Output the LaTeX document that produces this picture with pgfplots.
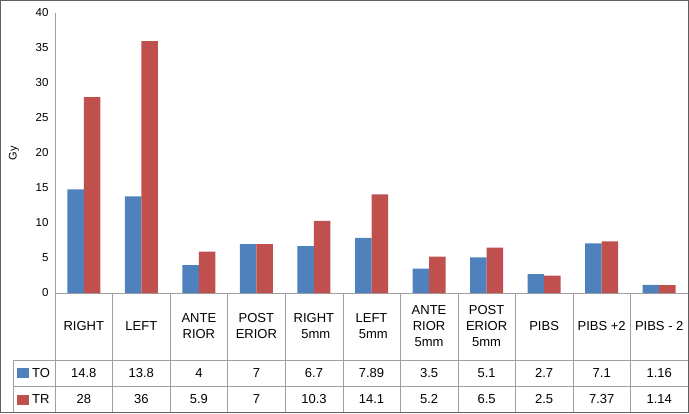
\documentclass[border=0pt]{standalone}
\usepackage{pgfplots}
\pgfplotsset{compat=1.18}
\usepackage{pgfplotstable}
\usepackage{fontspec}
\setmainfont{Liberation Sans}

\definecolor{toblue}{RGB}{79,129,189}
\definecolor{trred}{RGB}{192,80,77}
\definecolor{linegray}{RGB}{160,160,160}
\definecolor{framegray}{RGB}{95,95,95}

% dose per position (Gy)
\pgfplotstableread{
x TO TR
0 14.8 28
1 13.8 36
2 4 5.9
3 7 7
4 6.7 10.3
5 7.89 14.1
6 3.5 5.2
7 5.1 6.5
8 2.7 2.5
9 7.1 7.37
10 1.16 1.14
}\dose

\begin{document}
\begin{tikzpicture}[x=1pt,y=1pt]
\useasboundingbox (0,0) rectangle (689,413);
\begin{axis}[
  at={(55pt,120pt)}, anchor=south west,
  scale only axis, width=633pt, height=280pt,
  ybar=0pt, bar width=16.5pt,
  xmin=-0.5, xmax=10.5, ymin=0, ymax=40,
  ytick={0,5,...,40},
  xtick=data,
  xticklabels={RIGHT, LEFT, {ANTE\\RIOR}, {POST\\ERIOR}, {RIGHT\\\ 5mm}, {LEFT\\\ 5mm},
    {ANTE\\RIOR\\5mm}, {POST\\ERIOR\\5mm}, PIBS, {PIBS +2}, {PIBS - 2}},
  xticklabel style={align=center, anchor=center, yshift=-33.5pt,
    font=\fontsize{13}{16}\selectfont},
  yticklabel style={font=\fontsize{11.5}{13}\selectfont, xshift=-3pt},
  /pgf/number format/assume math mode=true,
  axis lines=left,
  axis line style={-, draw=linegray},
  major tick length=0pt,
  ylabel={Gy},
  ylabel style={at={(axis description cs:-0.065,0.5)}, anchor=center,
    font=\fontsize{11}{13}\selectfont},
  clip=false,
]
\addplot[fill=toblue, draw=none] table[x=x, y=TO] {\dose};
\addplot[fill=trred, draw=none] table[x=x, y=TR] {\dose};
\end{axis}

% data table below the chart
\draw[linegray] (13,53) -- (688,53);
\draw[linegray] (13,27) -- (688,27);
\draw[linegray] (13,53) -- (13,0);
\foreach \i in {0,...,10} \draw[linegray] ({55+57.55*\i},120) -- ({55+57.55*\i},0);
\foreach \i in {0,...,10} {
  \pgfplotstablegetelem{\i}{TO}\of\dose
  \node[font=\fontsize{13}{15}\selectfont] at ({55+57.55*(\i+0.5)},40) {\pgfplotsretval};
  \pgfplotstablegetelem{\i}{TR}\of\dose
  \node[font=\fontsize{13}{15}\selectfont] at ({55+57.55*(\i+0.5)},13.5) {\pgfplotsretval};
}
\fill[toblue] (17,35) rectangle (29,45);
\node[anchor=west, font=\fontsize{13}{15}\selectfont, inner sep=0pt] at (32,40) {TO};
\fill[trred] (17,8.5) rectangle (29,18.5);
\node[anchor=west, font=\fontsize{13}{15}\selectfont, inner sep=0pt] at (32,13.5) {TR};

\draw[framegray, line width=1.3pt] (0.65,0.65) rectangle (688.35,412.35);
\end{tikzpicture}
\end{document}
